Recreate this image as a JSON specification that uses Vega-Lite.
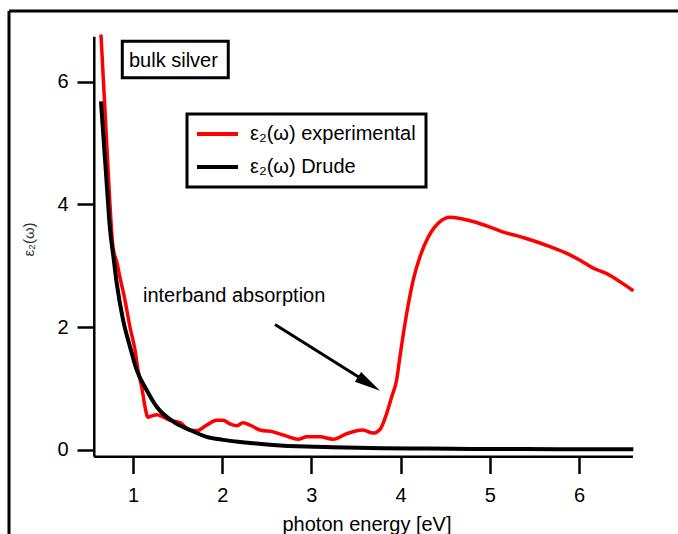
{
  "$schema": "https://vega.github.io/schema/vega-lite/v6.json",
  "width": 669,
  "height": 523,
  "autosize": {"type": "none"},
  "padding": {"left": 9, "top": 11, "right": 0, "bottom": 0},
  "background": "white",
  "config": {
    "view": {"stroke": "black", "strokeWidth": 3, "strokeDash": [669, 1192, 523, 0]},
    "font": "Liberation Sans",
    "axis": {
      "domain": false,
      "grid": false,
      "tickColor": "black",
      "tickWidth": 2.5,
      "tickSize": 17,
      "labelColor": "black",
      "labelFont": "Liberation Sans",
      "labelFontSize": 20,
      "titleFont": "Liberation Sans",
      "titleFontWeight": "normal",
      "titleColor": "black"
    },
    "legend": {
      "labelFont": "Liberation Sans"
    }
  },
  "datasets": {
    "experimental": [
      {"E": 0.641, "eps2": 6.77, "series": "ε₂(ω) experimental"},
      {"E": 0.709, "eps2": 4.89, "series": "ε₂(ω) experimental"},
      {"E": 0.776, "eps2": 3.30, "series": "ε₂(ω) experimental"},
      {"E": 0.82, "eps2": 3.05, "series": "ε₂(ω) experimental"},
      {"E": 0.854, "eps2": 2.81, "series": "ε₂(ω) experimental"},
      {"E": 0.91, "eps2": 2.44, "series": "ε₂(ω) experimental"},
      {"E": 0.966, "eps2": 2.00, "series": "ε₂(ω) experimental"},
      {"E": 1.022, "eps2": 1.63, "series": "ε₂(ω) experimental"},
      {"E": 1.056, "eps2": 1.30, "series": "ε₂(ω) experimental"},
      {"E": 1.098, "eps2": 1.02, "series": "ε₂(ω) experimental"},
      {"E": 1.134, "eps2": 0.70, "series": "ε₂(ω) experimental"},
      {"E": 1.168, "eps2": 0.53, "series": "ε₂(ω) experimental"},
      {"E": 1.21, "eps2": 0.55, "series": "ε₂(ω) experimental"},
      {"E": 1.266, "eps2": 0.57, "series": "ε₂(ω) experimental"},
      {"E": 1.34, "eps2": 0.53, "series": "ε₂(ω) experimental"},
      {"E": 1.415, "eps2": 0.48, "series": "ε₂(ω) experimental"},
      {"E": 1.527, "eps2": 0.44, "series": "ε₂(ω) experimental"},
      {"E": 1.639, "eps2": 0.32, "series": "ε₂(ω) experimental"},
      {"E": 1.714, "eps2": 0.31, "series": "ε₂(ω) experimental"},
      {"E": 1.826, "eps2": 0.40, "series": "ε₂(ω) experimental"},
      {"E": 1.938, "eps2": 0.48, "series": "ε₂(ω) experimental"},
      {"E": 2.009, "eps2": 0.48, "series": "ε₂(ω) experimental"},
      {"E": 2.088, "eps2": 0.42, "series": "ε₂(ω) experimental"},
      {"E": 2.163, "eps2": 0.39, "series": "ε₂(ω) experimental"},
      {"E": 2.233, "eps2": 0.44, "series": "ε₂(ω) experimental"},
      {"E": 2.312, "eps2": 0.40, "series": "ε₂(ω) experimental"},
      {"E": 2.424, "eps2": 0.32, "series": "ε₂(ω) experimental"},
      {"E": 2.57, "eps2": 0.29, "series": "ε₂(ω) experimental"},
      {"E": 2.723, "eps2": 0.22, "series": "ε₂(ω) experimental"},
      {"E": 2.85, "eps2": 0.17, "series": "ε₂(ω) experimental"},
      {"E": 2.947, "eps2": 0.21, "series": "ε₂(ω) experimental"},
      {"E": 3.096, "eps2": 0.21, "series": "ε₂(ω) experimental"},
      {"E": 3.242, "eps2": 0.17, "series": "ε₂(ω) experimental"},
      {"E": 3.396, "eps2": 0.26, "series": "ε₂(ω) experimental"},
      {"E": 3.578, "eps2": 0.32, "series": "ε₂(ω) experimental"},
      {"E": 3.691, "eps2": 0.27, "series": "ε₂(ω) experimental"},
      {"E": 3.769, "eps2": 0.33, "series": "ε₂(ω) experimental"},
      {"E": 3.844, "eps2": 0.59, "series": "ε₂(ω) experimental"},
      {"E": 3.90, "eps2": 0.86, "series": "ε₂(ω) experimental"},
      {"E": 3.956, "eps2": 1.14, "series": "ε₂(ω) experimental"},
      {"E": 3.993, "eps2": 1.52, "series": "ε₂(ω) experimental"},
      {"E": 4.068, "eps2": 2.22, "series": "ε₂(ω) experimental"},
      {"E": 4.142, "eps2": 2.77, "series": "ε₂(ω) experimental"},
      {"E": 4.218, "eps2": 3.15, "series": "ε₂(ω) experimental"},
      {"E": 4.311, "eps2": 3.47, "series": "ε₂(ω) experimental"},
      {"E": 4.442, "eps2": 3.72, "series": "ε₂(ω) experimental"},
      {"E": 4.554, "eps2": 3.79, "series": "ε₂(ω) experimental"},
      {"E": 4.666, "eps2": 3.77, "series": "ε₂(ω) experimental"},
      {"E": 4.812, "eps2": 3.72, "series": "ε₂(ω) experimental"},
      {"E": 5.002, "eps2": 3.63, "series": "ε₂(ω) experimental"},
      {"E": 5.19, "eps2": 3.53, "series": "ε₂(ω) experimental"},
      {"E": 5.302, "eps2": 3.49, "series": "ε₂(ω) experimental"},
      {"E": 5.372, "eps2": 3.46, "series": "ε₂(ω) experimental"},
      {"E": 5.563, "eps2": 3.37, "series": "ε₂(ω) experimental"},
      {"E": 5.675, "eps2": 3.31, "series": "ε₂(ω) experimental"},
      {"E": 5.862, "eps2": 3.20, "series": "ε₂(ω) experimental"},
      {"E": 6.011, "eps2": 3.09, "series": "ε₂(ω) experimental"},
      {"E": 6.16, "eps2": 2.96, "series": "ε₂(ω) experimental"},
      {"E": 6.311, "eps2": 2.87, "series": "ε₂(ω) experimental"},
      {"E": 6.459, "eps2": 2.74, "series": "ε₂(ω) experimental"},
      {"E": 6.609, "eps2": 2.59, "series": "ε₂(ω) experimental"}
    ],
    "drude": [
      {"E": 0.641, "eps2": 5.68, "series": "ε₂(ω) Drude"},
      {"E": 0.70, "eps2": 4.45, "series": "ε₂(ω) Drude"},
      {"E": 0.742, "eps2": 3.60, "series": "ε₂(ω) Drude"},
      {"E": 0.78, "eps2": 3.15, "series": "ε₂(ω) Drude"},
      {"E": 0.817, "eps2": 2.72, "series": "ε₂(ω) Drude"},
      {"E": 0.888, "eps2": 2.12, "series": "ε₂(ω) Drude"},
      {"E": 0.966, "eps2": 1.68, "series": "ε₂(ω) Drude"},
      {"E": 1.041, "eps2": 1.30, "series": "ε₂(ω) Drude"},
      {"E": 1.154, "eps2": 0.97, "series": "ε₂(ω) Drude"},
      {"E": 1.266, "eps2": 0.70, "series": "ε₂(ω) Drude"},
      {"E": 1.448, "eps2": 0.46, "series": "ε₂(ω) Drude"},
      {"E": 1.639, "eps2": 0.32, "series": "ε₂(ω) Drude"},
      {"E": 1.826, "eps2": 0.21, "series": "ε₂(ω) Drude"},
      {"E": 2.009, "eps2": 0.16, "series": "ε₂(ω) Drude"},
      {"E": 2.312, "eps2": 0.11, "series": "ε₂(ω) Drude"},
      {"E": 2.57, "eps2": 0.077, "series": "ε₂(ω) Drude"},
      {"E": 2.947, "eps2": 0.05, "series": "ε₂(ω) Drude"},
      {"E": 3.242, "eps2": 0.04, "series": "ε₂(ω) Drude"},
      {"E": 3.8, "eps2": 0.025, "series": "ε₂(ω) Drude"},
      {"E": 4.3, "eps2": 0.018, "series": "ε₂(ω) Drude"},
      {"E": 4.8, "eps2": 0.013, "series": "ε₂(ω) Drude"},
      {"E": 5.4, "eps2": 0.009, "series": "ε₂(ω) Drude"},
      {"E": 6.0, "eps2": 0.007, "series": "ε₂(ω) Drude"},
      {"E": 6.609, "eps2": 0.005, "series": "ε₂(ω) Drude"}
    ],
    "one": [{}]
  },
  "layer": [
    {
      "data": {"name": "experimental"},
      "mark": {"type": "line", "strokeWidth": 3.5, "interpolate": "monotone"},
      "encoding": {
        "x": {
          "field": "E",
          "type": "quantitative",
          "scale": {"domain": [-0.3901, 7.1099], "nice": false, "zero": false},
          "axis": {
            "orient": "bottom",
            "offset": -77.5,
            "values": [1, 2, 3, 4, 5, 6],
            "format": "d",
            "labelPadding": 12,
            "title": "photon energy [eV]",
            "titleFontSize": 20,
            "titleX": 357.5,
            "titleY": 74,
            "titleAlign": "center",
            "titleBaseline": "alphabetic"
          }
        },
        "y": {
          "field": "eps2",
          "type": "quantitative",
          "scale": {"domain": [-1.375, 7.153], "nice": false, "zero": false},
          "axis": {
            "orient": "left",
            "offset": -85,
            "values": [0, 2, 4, 6],
            "format": "d",
            "labelPadding": 9,
            "title": "ε₂(ω)",
            "titleFontSize": 15,
            "titleColor": "#333333",
            "titleX": -66,
            "titleY": 228,
            "titleAngle": -90,
            "titleAlign": "center",
            "titleBaseline": "middle"
          }
        },
        "color": {
          "field": "series",
          "type": "nominal",
          "scale": {"domain": ["ε₂(ω) experimental", "ε₂(ω) Drude"], "range": ["#ff0000", "#000000"]},
          "legend": {
            "orient": "none",
            "legendX": 178,
            "legendY": 103,
            "title": null,
            "strokeColor": "black",
            "padding": 10,
            "symbolType": "M-1.25,0H3.875",
            "symbolSize": 256,
            "symbolStrokeWidth": 4,
            "labelFontSize": 20,
            "labelColor": "black",
            "labelOffset": 33,
            "labelLimit": 400,
            "rowPadding": 13,
            "encode": {"legend": {"update": {"strokeWidth": {"value": 3}}}}
          }
        }
      }
    },
    {
      "data": {"name": "drude"},
      "mark": {"type": "line", "strokeWidth": 4, "interpolate": "monotone"},
      "encoding": {
        "x": {"field": "E", "type": "quantitative"},
        "y": {"field": "eps2", "type": "quantitative"},
        "color": {"field": "series", "type": "nominal"}
      }
    },
    {
      "data": {"name": "one"},
      "mark": {"type": "rule", "color": "black", "strokeWidth": 2.5},
      "encoding": {"x": {"datum": 0.566, "type": "quantitative"}, "y": {"datum": -0.116, "type": "quantitative"}, "y2": {"datum": 6.734}}
    },
    {
      "data": {"name": "one"},
      "mark": {"type": "rule", "color": "black", "strokeWidth": 2.5},
      "encoding": {"x": {"datum": 0.566, "type": "quantitative"}, "x2": {"datum": 6.605}, "y": {"datum": -0.116, "type": "quantitative"}}
    },
    {
      "data": {"name": "one"},
      "mark": {"type": "rect", "fill": "white", "stroke": "black", "strokeWidth": 3},
      "encoding": {"x": {"datum": 0.880, "type": "quantitative"}, "x2": {"datum": 2.068}, "y": {"datum": 6.659, "type": "quantitative"}, "y2": {"datum": 6.064}}
    },
    {
      "data": {"name": "one"},
      "mark": {"type": "text", "text": "bulk silver", "align": "left", "baseline": "alphabetic", "fontSize": 20, "font": "Liberation Sans", "color": "black"},
      "encoding": {"x": {"datum": 0.955, "type": "quantitative"}, "y": {"datum": 6.245, "type": "quantitative"}}
    },
    {
      "data": {"name": "one"},
      "mark": {"type": "text", "text": "interband absorption", "align": "left", "baseline": "alphabetic", "fontSize": 20, "font": "Liberation Sans", "color": "black"},
      "encoding": {"x": {"datum": 1.112, "type": "quantitative"}, "y": {"datum": 2.403, "type": "quantitative"}}
    },
    {
      "data": {"name": "one"},
      "mark": {"type": "rule", "color": "black", "strokeWidth": 3},
      "encoding": {"x": {"datum": 2.592, "type": "quantitative"}, "x2": {"datum": 3.57}, "y": {"datum": 2.041, "type": "quantitative"}, "y2": {"datum": 1.15}}
    },
    {
      "data": {"name": "one"},
      "mark": {"type": "point", "shape": "M1,0L-1,-0.45L-1,0.45Z", "size": 676, "angle": 32, "filled": true, "color": "black", "opacity": 1},
      "encoding": {"x": {"datum": 3.646, "type": "quantitative"}, "y": {"datum": 1.0745, "type": "quantitative"}}
    }
  ]
}
